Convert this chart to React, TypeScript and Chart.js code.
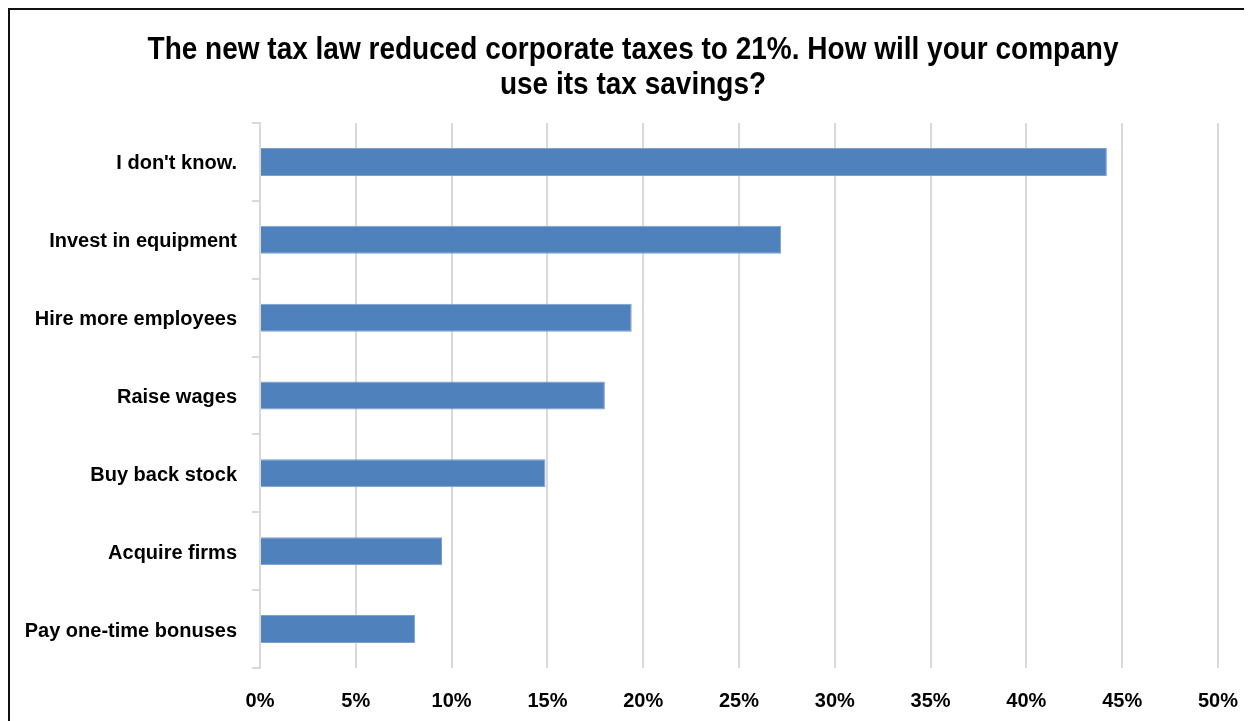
import React, { useEffect, useRef } from "react";
import { Chart, registerables } from "chart.js";

Chart.register(...registerables);

const titleLines = [
  "The new tax law reduced corporate taxes to 21%. How will your company",
  "use its tax savings?",
];
const categories = [
  "I don't know.",
  "Invest in equipment",
  "Hire more employees",
  "Raise wages",
  "Buy back stock",
  "Acquire firms",
  "Pay one-time bonuses",
];
const values = [44.2, 27.2, 19.4, 18.0, 14.9, 9.5, 8.1];
const xMin = 0;
const xMax = 50;
const xStep = 5;

const FONT = "'Liberation Sans', Arial, sans-serif";

const titlePlugin = {
  id: "condensedTitle",
  afterDraw(chart: any) {
    const ctx = chart.ctx as CanvasRenderingContext2D;
    ctx.save();
    ctx.fillStyle = "#000";
    ctx.font = `bold 32px ${FONT}`;
    ctx.textAlign = "center";
    ctx.textBaseline = "alphabetic";
    const baselines = [49, 84];
    titleLines.forEach((line, i) => {
      ctx.save();
      ctx.translate(623, baselines[i]);
      ctx.scale(0.875, 1);
      ctx.fillText(line, 0, 0);
      ctx.restore();
    });
    ctx.restore();
  },
};

export default function App() {
  const ref = useRef<HTMLCanvasElement | null>(null);

  useEffect(() => {
    document.documentElement.style.overflow = "hidden";
    document.body.style.overflow = "hidden";
    if (!ref.current) return;
    const chart = new Chart(ref.current, {
      type: "bar",
      data: {
        labels: categories,
        datasets: [
          {
            data: values,
            backgroundColor: "#4F81BD",
            borderColor: "#7BA0CE",
            borderWidth: 1,
            categoryPercentage: 1,
            barPercentage: 0.36,
          },
        ],
      },
      options: {
        indexAxis: "y",
        responsive: false,
        animation: false,
        devicePixelRatio: 1,
        layout: { padding: { left: 0, right: 0, top: 113, bottom: 0 } },
        plugins: {
          legend: { display: false },
          tooltip: { enabled: false },
          title: { display: false },
        },
        scales: {
          x: {
            type: "linear",
            min: xMin,
            max: xMax,
            grid: { color: "#D9D9D9", lineWidth: 2, drawTicks: false },
            border: { display: false },
            ticks: {
              stepSize: xStep,
              color: "#000",
              padding: 21,
              font: { family: FONT, size: 20, weight: "bold" },
              callback: (v: any) => v + "%",
            },
            afterFit: (scale: any) => {
              scale.height = 53;
            },
          },
          y: {
            type: "category",
            offset: true,
            grid: {
              color: "#D9D9D9",
              lineWidth: 2,
              drawOnChartArea: false,
              drawTicks: true,
              tickLength: 8,
              offset: true,
            },
            border: { display: true, color: "#D9D9D9", width: 2 },
            ticks: {
              color: "#000",
              padding: 15,
              labelOffset: 2,
              font: { family: FONT, size: 20, weight: "bold" },
            },
            afterFit: (scale: any) => {
              scale.width = 250;
            },
          },
        },
      },
      plugins: [titlePlugin],
    });
    return () => chart.destroy();
  }, []);

  return (
    <div
      style={{
        borderTop: "2px solid #111",
        borderLeft: "2px solid #111",
        width: 1260,
        height: 720,
        background: "#fff",
      }}
    >
      <canvas ref={ref} width={1249} height={711} style={{ display: "block" }} />
    </div>
  );
}
